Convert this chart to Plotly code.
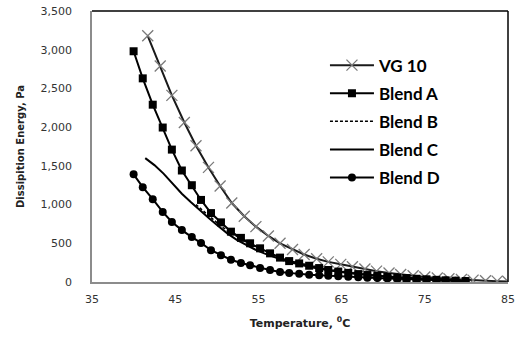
import plotly.graph_objects as go

# Temperatures (°C) and dissipation energy (Pa) for each fluid
vg10_temp = [41.7, 43.2, 44.6, 46.1, 47.5, 49.0, 50.4, 51.8, 53.3, 54.7, 56.2, 57.6,
             59.1, 60.5, 62.0, 63.4, 64.9, 66.3, 67.8, 69.2, 70.7, 72.1, 73.6, 75.0,
             76.5, 77.9, 79.4, 80.8, 82.3, 83.7, 85.0]
vg10_energy = [3180, 2790, 2410, 2060, 1760, 1480, 1240, 1020, 850, 715, 595, 500,
               420, 355, 300, 260, 228, 197, 167, 140, 117, 97, 80, 65,
               52, 42, 32, 24, 17, 11, 6]

blend_temp = [40.0, 41.1, 42.3, 43.5, 44.6, 45.8, 47.0, 48.1, 49.3, 50.5, 51.7, 52.9,
              54.0, 55.2, 56.4, 57.6, 58.7, 59.9, 61.1, 62.3, 63.4, 64.6, 65.8, 67.0,
              68.1, 69.3, 70.5, 71.7, 72.8, 74.0, 75.2, 76.4, 77.5, 78.7, 79.9]
blend_a_energy = [2980, 2630, 2290, 1995, 1710, 1440, 1250, 1060, 890, 770, 650, 570,
                  500, 435, 370, 315, 270, 240, 210, 180, 155, 135, 118, 102,
                  90, 78, 67, 58, 50, 42, 35, 28, 22, 17, 12]
blend_d_energy = [1390, 1225, 1070, 905, 775, 670, 580, 505, 410, 347, 288, 245,
                  215, 180, 155, 130, 116, 105, 95, 88, 80, 74, 68, 62,
                  56, 51, 46, 41, 37, 33, 28, 24, 20, 16, 12]

blend_b_temp = [47.5, 48.6, 49.7, 50.8, 51.9, 53.0, 54.1, 55.2, 56.3, 57.4, 58.5, 59.6,
                60.7, 61.8, 62.9, 64.0, 65.1, 66.2, 67.3, 68.4, 69.5, 70.6, 71.7, 72.8,
                73.9, 75.0, 76.1, 77.2, 78.3, 79.4]
blend_b_energy = [1000, 895, 795, 700, 620, 550, 485, 425, 375, 330, 290, 255,
                  225, 200, 178, 158, 140, 125, 111, 98, 87, 77, 68, 60,
                  52, 45, 39, 33, 28, 23]

blend_c_temp = [41.4, 42.5, 43.6, 44.7, 45.8, 46.9, 48.0, 49.1, 50.2, 51.3, 52.4, 53.5,
                54.6, 55.7, 56.8, 57.9, 59.0, 60.1, 61.2, 62.3, 63.4, 64.5, 65.6, 66.7,
                67.8, 68.9, 70.0, 71.1, 72.2, 73.3, 74.4, 75.5, 76.6, 77.7, 78.8, 79.9]
blend_c_energy = [1600, 1510, 1400, 1270, 1140, 1030, 920, 820, 720, 625, 545, 480,
                  420, 370, 325, 285, 250, 220, 195, 172, 152, 135, 120, 106,
                  94, 83, 73, 64, 56, 49, 42, 36, 30, 25, 20, 15]

x_ticks = [35, 45, 55, 65, 75, 85]
y_ticks = [0, 500, 1000, 1500, 2000, 2500, 3000, 3500]

fig = go.Figure()

fig.add_trace(go.Scatter(
    x=vg10_temp, y=vg10_energy, name="VG 10", legendgroup="g1",
    mode="lines+markers",
    line=dict(color="#1a1a1a", width=2),
    marker=dict(symbol="x-thin", size=11, color="#7a7a7a",
                line=dict(color="#7a7a7a", width=1.3)),
))
fig.add_trace(go.Scatter(
    x=blend_temp, y=blend_a_energy, name="Blend A", legendgroup="g2",
    mode="lines+markers",
    line=dict(color="black", width=2),
    marker=dict(symbol="square", size=8, color="black"),
))
fig.add_trace(go.Scatter(
    x=blend_b_temp, y=blend_b_energy, name="Blend B", legendgroup="g3",
    mode="lines",
    line=dict(color="black", width=1.5, dash="3px,2px"),
))
fig.add_trace(go.Scatter(
    x=blend_c_temp, y=blend_c_energy, name="Blend C", legendgroup="g4",
    mode="lines",
    line=dict(color="black", width=2),
))
fig.add_trace(go.Scatter(
    x=blend_temp, y=blend_d_energy, name="Blend D", legendgroup="g5",
    mode="lines+markers",
    line=dict(color="black", width=2),
    marker=dict(symbol="circle", size=8, color="black"),
))

# dark frame on the top and right sides of the plot area
fig.add_shape(type="line", xref="paper", yref="paper", x0=0, x1=1, y0=1, y1=1,
              line=dict(color="black", width=1.5))
fig.add_shape(type="line", xref="paper", yref="paper", x0=1, x1=1, y0=0, y1=1,
              line=dict(color="black", width=1.5))

fig.update_layout(
    width=520, height=340,
    margin=dict(l=92, r=5, t=10, b=58),
    paper_bgcolor="white", plot_bgcolor="white",
    font=dict(family="DejaVu Sans", color="#333333"),
    showlegend=True,
    legend=dict(
        x=0.56, y=0.865, xanchor="left", yanchor="top",
        bgcolor="rgba(0,0,0,0)",
        font=dict(family="Lato", size=17, color="black", weight="bold"),
        tracegroupgap=3,
        itemwidth=44,
    ),
    xaxis=dict(
        range=[35, 85], tickvals=x_ticks, ticktext=[str(v) for v in x_ticks],
        showgrid=False, zeroline=False,
        showline=True, linecolor="#8c8c8c", linewidth=1.5,
        tickfont=dict(size=11, color="#333333"),
        ticks="", ticklabelstandoff=6, ticklabeloverflow="allow",
        title=dict(text="Temperature, <sup>0</sup>C",
                   font=dict(size=11, color="#222222", weight="bold"),
                   standoff=14),
    ),
    yaxis=dict(
        range=[0, 3500], tickvals=y_ticks, ticktext=[f"{v:,}" for v in y_ticks],
        showgrid=False, zeroline=False,
        showline=True, linecolor="#8c8c8c", linewidth=1.5,
        tickfont=dict(size=11, color="#333333"),
        ticks="", ticklabelstandoff=16,
        title=dict(text="Dissipition Energy, Pa",
                   font=dict(size=10, color="#222222", weight="bold"),
                   standoff=14),
    ),
)

fig.write_html("out.html")
